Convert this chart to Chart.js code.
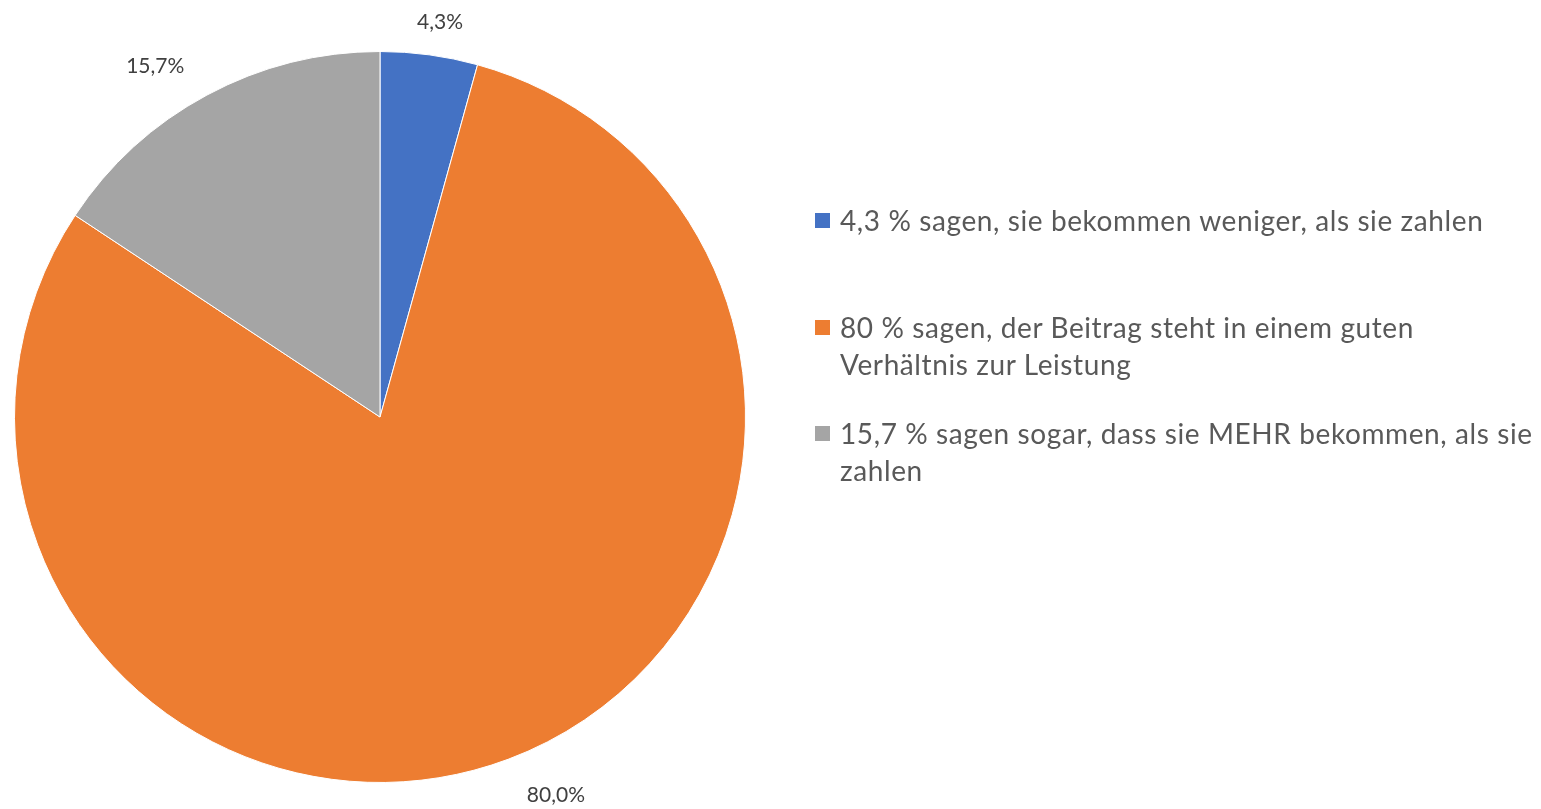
<!DOCTYPE html>
<html>
<head>
<meta charset="utf-8">
<script src="https://cdn.jsdelivr.net/npm/chart.js@4"></script>
<style>
  html, body { margin:0; padding:0; background:#fff; }
  #wrap { position:relative; width:1541px; height:809px; overflow:hidden; }
  #legend { position:absolute; left:815px; top:202px; width:745px; font-family:Lato, "Open Sans", sans-serif; font-size:28px; letter-spacing:0.6px; color:#595959; white-space:nowrap; }
  .item { display:flex; align-items:flex-start; line-height:37px; }
  .box { width:15px; height:15px; flex:none; margin-top:11px; margin-right:10px; }
</style>
</head>
<body>
<div id="wrap">
  <canvas id="pie" width="1541" height="809"></canvas>
  <div id="legend"></div>
</div>
<script>
const labels = [
  '4,3 % sagen, sie bekommen weniger, als sie zahlen',
  '80 % sagen, der Beitrag steht in einem guten Verhältnis zur Leistung',
  '15,7 % sagen sogar, dass sie MEHR bekommen, als sie zahlen'
];
// legend text as it wraps in the original
const legendLines = [
  ['4,3 % sagen, sie bekommen weniger, als sie zahlen'],
  ['80 % sagen, der Beitrag steht in einem guten', 'Verhältnis zur Leistung'],
  ['15,7 % sagen sogar, dass sie MEHR bekommen, als sie', 'zahlen']
];
const values = [4.3, 80.0, 15.7];
const valueLabels = ['4,3%', '80,0%', '15,7%'];
const colors = ['#4472C4', '#ED7D31', '#A5A5A5'];
// label placement: distance beyond the rim and angle nudge (degrees)
const labelGap = [34, 52, 51];
const labelTurn = [0.9, -4.4, -4.4];
const legendGap = [70, 32, 0];

const sliceLabels = {
  id: 'sliceLabels',
  afterDraw(chart) {
    const ctx = chart.ctx;
    const arcs = chart.getDatasetMeta(0).data;
    ctx.save();
    ctx.font = '21px Lato, "Open Sans", sans-serif';
    ctx.fillStyle = '#404040';
    ctx.textAlign = 'center';
    ctx.textBaseline = 'middle';
    arcs.forEach((arc, i) => {
      const mid = (arc.startAngle + arc.endAngle) / 2 + labelTurn[i] * Math.PI / 180;
      const r = arc.outerRadius + labelGap[i];
      ctx.fillText(valueLabels[i], arc.x + Math.cos(mid) * r, arc.y + Math.sin(mid) * r);
    });
    ctx.restore();
  }
};

new Chart(document.getElementById('pie'), {
  type: 'pie',
  data: {
    labels: labels,
    datasets: [{
      data: values,
      backgroundColor: colors,
      borderColor: '#ffffff',
      borderWidth: 1
    }]
  },
  options: {
    responsive: false,
    animation: false,
    layout: { padding: { left: 14, top: 51, right: 795, bottom: 26 } },
    plugins: {
      legend: { display: false },
      tooltip: { enabled: false }
    }
  },
  plugins: [sliceLabels]
});

const legend = document.getElementById('legend');
legendLines.forEach((lines, i) => {
  const row = document.createElement('div');
  row.className = 'item';
  row.style.marginBottom = legendGap[i] + 'px';
  const b = document.createElement('span');
  b.className = 'box';
  b.style.background = colors[i];
  const s = document.createElement('span');
  lines.forEach((ln, j) => {
    if (j) s.appendChild(document.createElement('br'));
    s.appendChild(document.createTextNode(ln));
  });
  row.appendChild(b);
  row.appendChild(s);
  legend.appendChild(row);
});
</script>
</body>
</html>
